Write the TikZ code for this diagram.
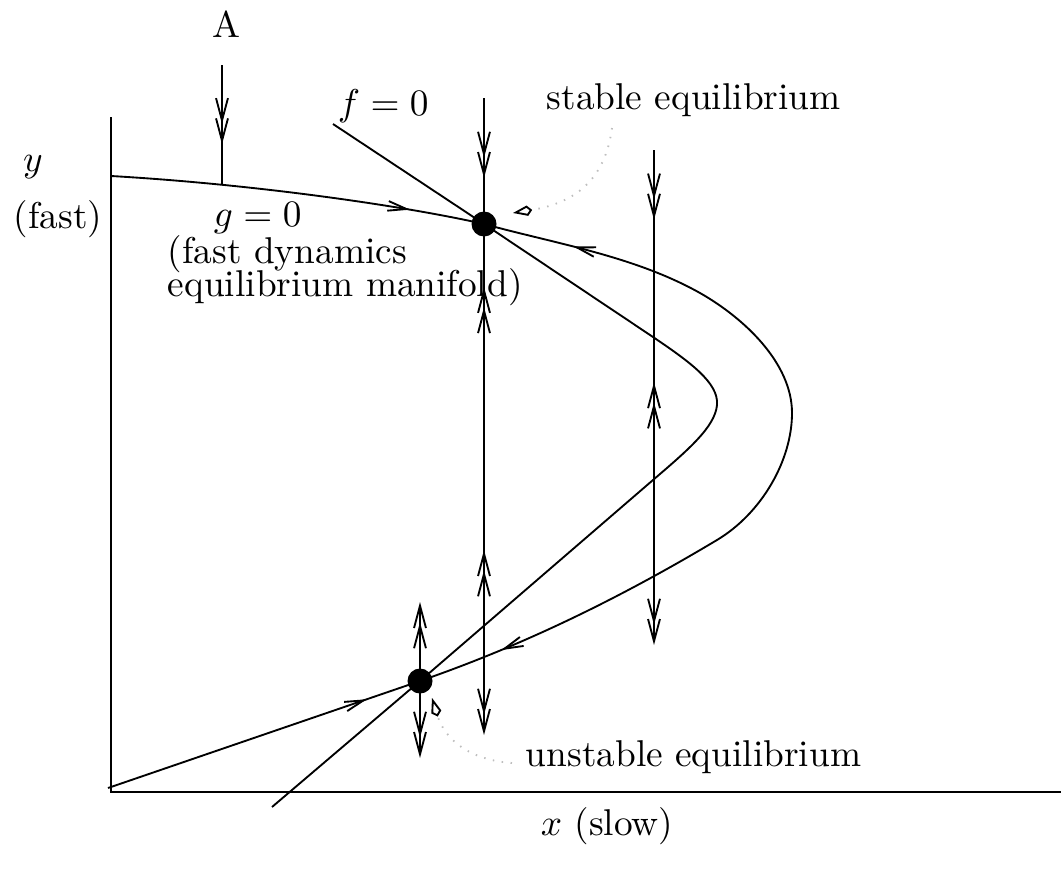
\documentclass[tikz,border=0pt]{standalone}
\usepackage{tikz}
\usetikzlibrary{positioning,arrows.meta,decorations.markings}
\definecolor{notegray}{RGB}{190,190,190}
\tikzset{
  dbl/.tip={Straight Barb[length=6pt,width=3.2pt,sep=-1.8pt] Straight Barb[length=6pt,width=3.2pt]},
  sgl/.tip={Straight Barb[length=5pt,width=2.6pt]},
  fwd/.style={postaction={decorate, decoration={markings,
                mark=at position #1 with {\arrow{dbl}}}}},
  bwd/.style={postaction={decorate, decoration={markings,
                mark=at position #1 with {\arrowreversed{dbl}}}}},
  fwdone/.style={postaction={decorate, decoration={markings,
                mark=at position #1 with {\arrow{sgl}}}}},
  bwdone/.style={postaction={decorate, decoration={markings,
                mark=at position #1 with {\arrowreversed{sgl}}}}},
  eqpt/.style={circle, fill=black, minimum size=6.7pt, inner sep=0pt},
  note/.style={notegray, dash pattern=on 0.4pt off 2pt,
               -{Kite[open, length=5.2pt, width=2.8pt, color=black, line width=0.5pt]}},
  lbl/.style={inner sep=0pt, anchor=base west}
}
\begin{document}
\begin{tikzpicture}[x=0.268pt, y=-0.268pt, line width=0.5pt]
    \useasboundingbox (0,0) rectangle (1061,868);
    % axes
    \coordinate (ytop) at (111,117);
    \coordinate (orig) at (111,792);
    \coordinate (xend) at (1061,792);
    \draw (ytop) -- (orig) -- (xend);
    % equilibria
    \coordinate (S) at (484,224);
    \coordinate (U) at (420,681);
    % g = 0
    \coordinate (gtop) at (111,176);
    \coordinate (gbot) at (108,788);
    \coordinate (gtip) at (792,413);
    \draw[fwdone=0.8] (gtop) .. controls (250,184) and (400,205) .. (S);
    \draw[bwdone=0.106, fwdone=0.9] (S) .. controls (557,244) and (634,256) .. (700,293)
        .. controls (744,318) and (792,363) .. (gtip)
        .. controls (792,460) and (762,513) .. (717,540)
        .. controls (620,598) and (524,645) .. (U);
    \draw[fwdone=0.83] (gbot) -- (U);
    % f = 0
    \coordinate (ftop) at (333,124);
    \coordinate (fbot) at (272,807);
    \draw (ftop) -- (S) -- (653,337) .. controls (690,362) and (719,383) .. (717,405)
        .. controls (715,427) and (688,450) .. (653,480) -- (U) -- (fbot);
    % fast flow
    \coordinate (a0) at (222,65);
    \coordinate (a1) at (222,184);
    \draw[fwd=0.667] (a0) -- (a1);
    \coordinate (s0) at (484,98);
    \coordinate (s1) at (484,735);
    \draw[fwd=0.635] (s0) -- (S);
    \draw[-dbl, bwd=0.123, bwd=0.638] (S) -- (s1);
    \coordinate (u0) at (420,602);
    \coordinate (u1) at (420,758);
    \draw[-dbl] (U) -- (u0);
    \draw[-dbl] (U) -- (u1);
    \coordinate (r0) at (654,150);
    \coordinate (r1) at (654,645);
    \draw[-dbl, fwd=0.141, bwd=0.469] (r0) -- (r1);
    \node[eqpt] (stab) at (S) {};
    \node[eqpt] (unst) at (U) {};
    % labels
    \coordinate (stabnote) at (612,128);
    \coordinate (stabtip) at (513,213);
    \draw[note] (stabnote) .. controls (605,180) and (575,203) .. (stabtip);
    \coordinate (unstnote) at (512,763);
    \coordinate (unsttip) at (432,698);
    \draw[note] (unstnote) .. controls (470,760) and (445,740) .. (unsttip);
    \node[lbl, anchor=base] (alab) at (226,38) {A};
    \node[lbl] (flab) at (337,115) {$f=0$};
    \node[lbl] (stablab) at (546,109) {stable equilibrium};
    \node[lbl, anchor=base] (ylab) at (33,171) {$y$};
    \node[lbl] (fastlab) at (13,228) {(fast)};
    \node[lbl] (glab) at (213,226) {$g=0$};
    \node[lbl] (gnote1) at (167,263) {(fast dynamics};
    \node[lbl] (gnote2) at (167,296) {equilibrium manifold)};
    \node[lbl] (unstlab) at (525,766) {unstable equilibrium};
    \node[lbl] (xlab) at (540,835) {$x$ (slow)};
  \end{tikzpicture}
\end{document}
